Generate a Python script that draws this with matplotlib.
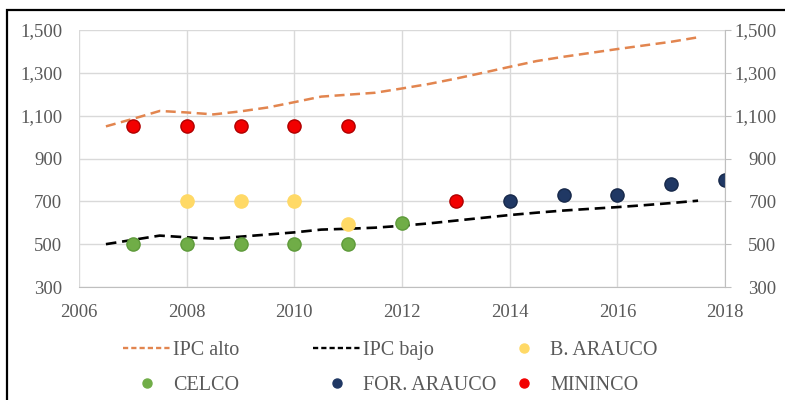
import matplotlib.pyplot as plt
from matplotlib.lines import Line2D
from matplotlib.patches import Rectangle

plt.rcParams['font.family'] = ['Liberation Serif', 'DejaVu Serif']

# IPC bands (half-year steps)
ipc_x = [2006.5, 2007, 2007.5, 2008, 2008.5, 2009, 2009.5, 2010, 2010.5, 2011, 2011.5,
         2012, 2012.5, 2013, 2013.5, 2014, 2014.5, 2015, 2015.5, 2016, 2016.5, 2017, 2017.5]
ipc_alto = [1050, 1085, 1122, 1115, 1106, 1120, 1138, 1163, 1189, 1198, 1207,
            1227, 1248, 1273, 1300, 1328, 1355, 1375, 1393, 1411, 1428, 1445, 1466]
ipc_bajo = [500, 520, 540, 532, 526, 535, 545, 555, 568, 572, 577,
            586, 597, 610, 623, 636, 647, 657, 665, 673, 682, 692, 703]

# companies
b_arauco_x = [2008, 2009, 2010, 2011]
b_arauco_y = [700, 700, 700, 595]
celco_x = [2007, 2008, 2009, 2010, 2011, 2012]
celco_y = [500, 500, 500, 500, 500, 600]
for_arauco_x = [2014, 2015, 2016, 2017, 2018]
for_arauco_y = [700, 730, 730, 783, 800]
mininco_x = [2007, 2008, 2009, 2010, 2011, 2013]
mininco_y = [1050, 1050, 1050, 1050, 1050, 700]

c_alto = '#E2854F'
c_bajo = '#000000'
c_barauco = '#FFD966'
c_celco = '#70AD47'
c_forarauco = '#203864'
c_mininco = '#F20000'
txt = '#595959'

fig = plt.figure(figsize=(7.85, 4.0), dpi=100)
ax = fig.add_axes([79/785, 1-287/400, (725-79)/785, (287-30)/400])

ax.plot(ipc_x, ipc_alto, color=c_alto, lw=1.8, dashes=(4, 2.2), zorder=2)
ax.plot(ipc_x, ipc_bajo, color=c_bajo, lw=1.9, dashes=(4, 2.2), zorder=2)
ms = 9.5
ax.plot(b_arauco_x, b_arauco_y, 'o', color=c_barauco, ms=ms, mec=c_barauco, zorder=3)
ax.plot(celco_x, celco_y, 'o', color=c_celco, ms=ms, mec='#5E9A3A', zorder=3)
ax.plot(for_arauco_x, for_arauco_y, 'o', color=c_forarauco, ms=ms, mec='#17294A', zorder=3)
ax.plot(mininco_x, mininco_y, 'o', color=c_mininco, ms=ms, mec='#B00000', zorder=3)

ax.set_xlim(2006, 2018)
ax.set_ylim(300, 1500)
ax.set_xticks(range(2006, 2019, 2))
ax.set_yticks(range(300, 1501, 200))
ax.set_yticklabels([f'{v:,}' for v in range(300, 1501, 200)])
ax.grid(True, color='#D9D9D9', lw=1)
ax.set_axisbelow(True)
for s in ['top', 'left', 'right']:
    ax.spines[s].set_visible(False)
ax.spines['bottom'].set_color('#BFBFBF')
ax.tick_params(axis='x', length=0, pad=12, labelsize=13.5, labelcolor=txt)
ax.tick_params(axis='y', length=0, pad=12, labelsize=13.5, labelcolor=txt)

ax2 = ax.twinx()
ax2.set_ylim(300, 1500)
ax2.set_yticks(range(300, 1501, 200))
ax2.set_yticklabels([f'{v:,}' for v in range(300, 1501, 200)])
for s in ['top', 'left', 'bottom']:
    ax2.spines[s].set_visible(False)
ax2.spines['right'].set_color('#BFBFBF')
ax2.tick_params(axis='y', length=4, color='#BFBFBF', pad=33, labelsize=13.5, labelcolor=txt)
for lab in ax2.get_yticklabels():
    lab.set_horizontalalignment('right')

# legend, one block per column
h_alto = Line2D([], [], color=c_alto, lw=1.7, dashes=(2.2, 1.3))
h_bajo = Line2D([], [], color=c_bajo, lw=1.7, dashes=(2.2, 1.3))
def dot(c):
    return Line2D([], [], ls='none', marker='o', ms=6.5, color=c)

columns = [
    ([h_alto, dot(c_celco)], ['IPC alto', 'CELCO'], 123),
    ([h_bajo, dot(c_forarauco)], ['IPC bajo', 'FOR. ARAUCO'], 313),
    ([dot(c_barauco), dot(c_mininco)], ['B. ARAUCO', 'MININCO'], 500),
]
for hs, ls, x0 in columns:
    leg = fig.legend(hs, ls, loc='upper left', bbox_to_anchor=(x0/785, 1-341/400),
                     frameon=False, borderpad=0, borderaxespad=0, handlelength=2.35,
                     handletextpad=0.15, labelspacing=0.78, prop={'size': 14.5})
    for t in leg.get_texts():
        t.set_color(txt)

fig.add_artist(Rectangle((6.5/785, -0.1), 1.0, 1.1 - 10/400, transform=fig.transFigure,
                         fill=False, ec='black', lw=1.6, clip_on=False))

fig.savefig('out.png', dpi=100)
